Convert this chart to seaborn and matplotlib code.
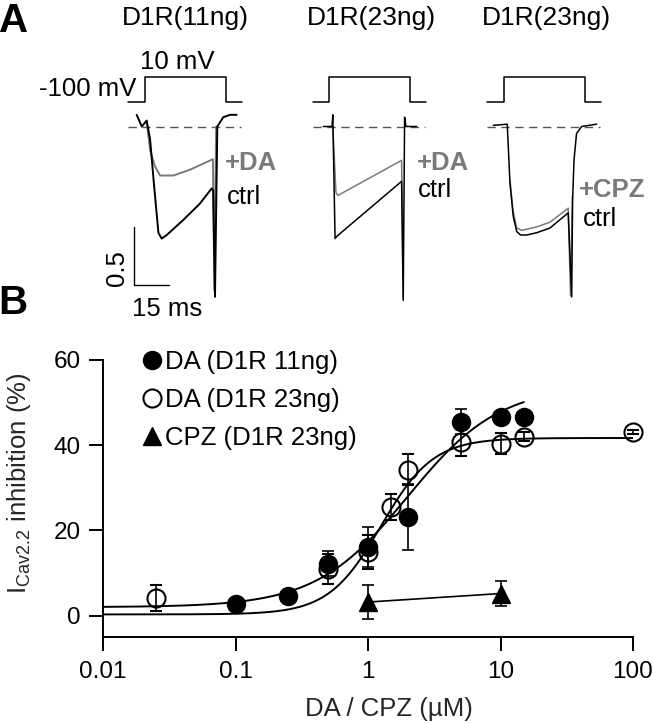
import numpy as np
import matplotlib.pyplot as plt
import seaborn as sns
from matplotlib.lines import Line2D

sns.set_theme(style="ticks")
plt.rcParams['font.family'] = ['Liberation Sans', 'DejaVu Sans']
plt.rcParams['mathtext.fontset'] = 'custom'
plt.rcParams['mathtext.rm'] = 'Liberation Sans'
plt.rcParams['mathtext.default'] = 'regular'
plt.rcParams['text.color'] = 'black'
plt.rcParams['axes.edgecolor'] = 'black'
plt.rcParams['xtick.color'] = 'black'
plt.rcParams['ytick.color'] = 'black'

# ---------------- data: panel B (dose-response) ----------------
dose_da11 = [0.1, 0.25, 0.5, 1, 2, 5, 10, 15]
inh_da11 = [2.8, 4.7, 12.2, 16.1, 23.1, 45.5, 46.7, 46.7]
sem_da11 = [0.5, 0.5, 3.0, 4.7, 7.7, 2.9, 1.0, 1.0]

dose_da23 = [0.025, 0.5, 1, 1.5, 2, 5, 10, 15, 100]
inh_da23 = [4.1, 11.0, 14.9, 25.5, 34.3, 40.8, 40.4, 42.0, 43.1]
sem_da23 = [3.0, 3.5, 4.0, 3.1, 3.6, 3.4, 2.5, 1.0, 0.5]

dose_cpz = [1, 10]
inh_cpz = [3.2, 5.2]
sem_cpz = [4.0, 3.0]

# Hill fits: bottom, top, EC50 (uM), Hill slope, x range
fit_da11 = [2.0, 54.0, 2.0, 1.25]
fit_da11_range = [0.01, 15]
fit_da23 = [0.3, 41.7, 1.25, 2.2]
fit_da23_range = [0.01, 100]

xticks = [0.01, 0.1, 1, 10, 100]
xtick_labels = ['0.01', '0.1', '1', '10', '100']
yticks = [0, 20, 40, 60]
legend_labels = ['DA (D1R 11ng)', 'DA (D1R 23ng)', 'CPZ (D1R 23ng)']

# ---------------- data: panel A (current traces, ms / normalised) ----------------
step_t = [-7.2, 0, 0, 35, 35, 42]
step_mv = [-100, -100, 10, 10, -100, -100]
base_t = [-7.2, 41.5]

s1_t_ctrl = [-3.6, -1.4, 0.7, 2.2, 3.9, 5.8, 7.2, 9.4, 16.6, 23.8, 28.9, 29.5, 30.3,
             31.3, 33.9, 36.8, 39.7]
s1_i_ctrl = [0.10, 0.0, 0.05, -0.11, -0.50, -0.91, -0.96, -0.93, -0.80, -0.66, -0.53,
             -0.55, -1.46, 0.0, 0.08, 0.10, 0.10]
s1_t_da = [0.7, 2.2, 4.3, 6.5, 12.3, 19.5, 29.4, 30.0, 30.8]
s1_i_da = [0.05, -0.20, -0.34, -0.42, -0.42, -0.37, -0.28, -1.40, 0.0]

s2_t_ctrl = [-2.6, 1.2, 1.5, 2.5, 3.3, 31.3, 32.0, 32.6, 33.2, 37.8]
s2_i_ctrl = [0.0, 0.0, 0.10, -0.96, -0.94, -0.47, -1.49, 0.08, 0.0, 0.0]
s2_t_da = [1.5, 2.9, 3.8, 31.3, 32.0]
s2_i_da = [0.0, -0.57, -0.59, -0.29, -1.47]

s3_t_ctrl = [-4.6, 1.4, 2.6, 4.0, 5.5, 7.2, 9.8, 14.2, 19.9, 27.8, 29.3, 29.7, 30.3,
             31.4, 33.6, 40.1]
s3_i_ctrl = [0.01, 0.02, -0.49, -0.77, -0.90, -0.93, -0.93, -0.91, -0.87, -0.74, -1.46,
             -0.63, -0.29, -0.06, 0.0, 0.02]
s3_t_cpz = [2.6, 3.9, 5.5, 7.7, 14.2, 19.9, 27.8, 28.8, 29.6]
s3_i_cpz = [-0.46, -0.72, -0.87, -0.89, -0.86, -0.82, -0.70, -1.45, -0.6]

scale_ms = 15
scale_amp = 0.5

# ---------------- figure ----------------
W, H = 653, 723
fig = plt.figure(figsize=(W / 100, H / 100), dpi=100)
GRAY = '#7a7a7a'
FS = 18.5

PX_MS = 2.31
PX_AMP = 116.7
sweep_x0 = [145, 329.3, 504]
sweep_lw = [1.4, 1.1, 1.1]
sweeps = [
    (s1_t_ctrl, s1_i_ctrl, s1_t_da, s1_i_da, '+DA', (34.6, -0.31), (35.5, -0.60)),
    (s2_t_ctrl, s2_i_ctrl, s2_t_da, s2_i_da, '+DA', (37.8, -0.315), (38.4, -0.54)),
    (s3_t_ctrl, s3_i_ctrl, s3_t_cpz, s3_i_cpz, '+CPZ', (32.5, -0.54), (34.2, -0.79)),
]
titles = ['D1R(11ng)', 'D1R(23ng)', 'D1R(23ng)']
title_x = [185, 371.7, 546.7]

for k, (x0, sw) in enumerate(zip(sweep_x0, sweeps)):
    t_c, i_c, t_d, i_d, drug, drug_pos, ctrl_pos = sw
    left = (x0 - 25) / W
    iax = fig.add_axes([left, 1 - 305 / H, 160 / W, 200 / H])
    iax.set_xlim(-25 / PX_MS, 135 / PX_MS)
    iax.set_ylim(-(305 - 126.5) / PX_AMP, (126.5 - 105) / PX_AMP)
    iax.axis('off')
    iax.plot(base_t, [0, 0], color='#555555', lw=1.0, dashes=(6, 4))
    sns.lineplot(x=t_d, y=i_d, ax=iax, color=GRAY, lw=sweep_lw[k], sort=False, estimator=None)
    sns.lineplot(x=t_c, y=i_c, ax=iax, color='black', lw=sweep_lw[k], sort=False, estimator=None)
    iax.text(drug_pos[0], drug_pos[1], drug, color=GRAY, fontweight='bold', fontsize=FS,
             ha='left', va='center', clip_on=False)
    iax.text(ctrl_pos[0], ctrl_pos[1], 'ctrl', color='black', fontsize=FS,
             ha='left', va='center', clip_on=False)

    vax = fig.add_axes([left, 1 - 112 / H, 160 / W, 42 / H])
    vax.set_xlim(-25 / PX_MS, 135 / PX_MS)
    vax.set_ylim(-146.4, 42.9)
    vax.axis('off')
    sns.lineplot(x=step_t, y=step_mv, ax=vax, color='black', lw=1.1, sort=False, estimator=None)

    fig.text(title_x[k] / W, 1 - 18 / H, titles[k], ha='center', va='center', fontsize=19)

    if k == 0:
        sb_t, sb_i = -4.6, -0.86
        iax.plot([sb_t, sb_t, sb_t + scale_ms], [sb_i, sb_i - scale_amp, sb_i - scale_amp],
                 color='black', lw=1.0, clip_on=False)
        iax.text(sb_t - 7.5, sb_i - scale_amp * 0.7, str(scale_amp), rotation=90,
                 ha='center', va='center', fontsize=FS, clip_on=False)
        iax.text(sb_t + 14.3, sb_i - scale_amp - 0.2, f'{scale_ms} ms',
                 ha='center', va='center', fontsize=FS, clip_on=False)

fig.text(136.7 / W, 1 - 89 / H, '-100 mV', ha='right', va='center', fontsize=FS)
fig.text(177 / W, 1 - 61.7 / H, '10 mV', ha='center', va='center', fontsize=FS)
fig.text(-0.002, 1 - 21 / H, 'A', fontsize=29, fontweight='bold', ha='left', va='center')
fig.text(-0.002, 1 - 303 / H, 'B', fontsize=29, fontweight='bold', ha='left', va='center')

# ---------------- panel B ----------------
ax = fig.add_axes([103 / W, 1 - 637 / H, 530 / W, 277 / H])
ax.set_xscale('log')


def hill(x, p):
    bottom, top, ec50, n = p
    return bottom + (top - bottom) / (1 + (ec50 / x) ** n)


for p, rng in [(fit_da11, fit_da11_range), (fit_da23, fit_da23_range)]:
    xs = np.logspace(np.log10(rng[0]), np.log10(rng[1]), 300)
    sns.lineplot(x=xs, y=hill(xs, p), ax=ax, color='black', lw=1.4, sort=False,
                 estimator=None, zorder=3)

eb_kw = dict(ecolor='black', elinewidth=1.2, capsize=4, capthick=1.2, clip_on=False)
ax.errorbar(dose_da23, inh_da23, yerr=sem_da23, fmt='o', ms=13, mfc='none', mec='black',
            mew=1.5, zorder=4, **eb_kw)
ax.errorbar(dose_da11, inh_da11, yerr=sem_da11, fmt='o', ms=13, mfc='black', mec='black',
            zorder=5, **eb_kw)
ax.errorbar(dose_cpz, inh_cpz, yerr=sem_cpz, fmt='^-', ms=13, color='black', lw=1.2,
            zorder=5, **eb_kw)

ax.set_xlim(0.01, 100)
ax.set_ylim(-5, 60)
ax.set_xticks(xticks)
ax.set_xticklabels(xtick_labels)
ax.xaxis.set_minor_locator(plt.NullLocator())
ax.set_yticks(yticks)
sns.despine(ax=ax)
for s in ['left', 'bottom']:
    ax.spines[s].set_linewidth(1.4)
ax.tick_params(axis='both', direction='out', length=10, width=1.4, labelsize=17.5)
ax.tick_params(axis='x', pad=7)
ax.tick_params(axis='y', pad=6)

ax.set_xlabel('DA / CPZ (µM)', fontsize=FS)
ax.xaxis.set_label_coords(0.54, -0.2166)
ax.set_ylabel(r'I$_{\rm Cav2.2}$ inhibition (%)', fontsize=FS)
ax.yaxis.set_label_coords(-0.132, 0.556)

handles = [
    Line2D([], [], marker='o', ls='none', ms=13, mfc='black', mec='black'),
    Line2D([], [], marker='o', ls='none', ms=13, mfc='none', mec='black', mew=1.5),
    Line2D([], [], marker='^', ls='none', ms=13, mfc='black', mec='black'),
]
ax.legend(handles, legend_labels, loc='upper left', bbox_to_anchor=(0.075, 1.036),
          frameon=False, fontsize=FS, handlelength=0.7, handletextpad=0.15,
          labelspacing=0.55, borderpad=0, borderaxespad=0)

fig.savefig('out.png', dpi=100)
